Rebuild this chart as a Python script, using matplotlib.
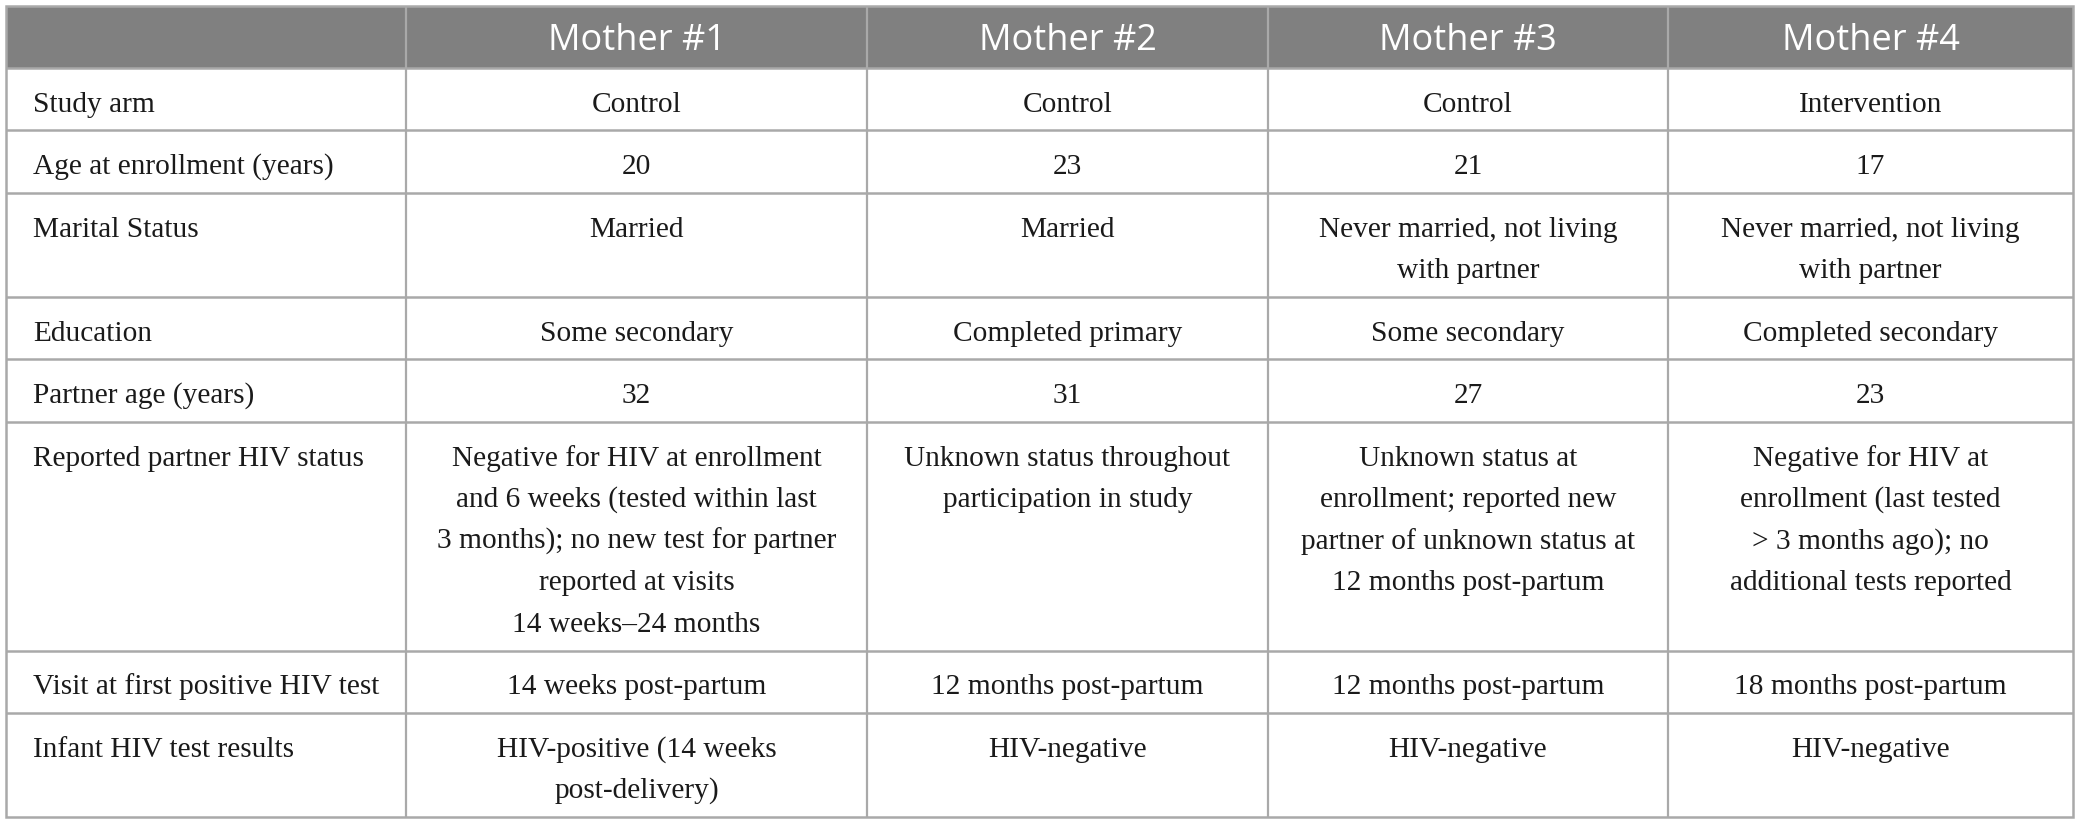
import matplotlib

matplotlib.use("Agg")

import matplotlib.pyplot as plt
from matplotlib.patches import Rectangle


column_titles = ["Mother #1", "Mother #2", "Mother #3", "Mother #4"]

row_labels = [
    "Study arm",
    "Age at enrollment (years)",
    "Marital Status",
    "Education",
    "Partner age (years)",
    "Reported partner HIV status",
    "Visit at first positive HIV test",
    "Infant HIV test results",
]

mother_1 = [
    "Control",
    "20",
    "Married",
    "Some secondary",
    "32",
    "Negative for HIV at enrollment\nand 6 weeks (tested within last\n"
    "3 months); no new test for partner\nreported at visits\n14 weeks\u201324 months",
    "14 weeks post-partum",
    "HIV-positive (14 weeks\npost-delivery)",
]

mother_2 = [
    "Control",
    "23",
    "Married",
    "Completed primary",
    "31",
    "Unknown status throughout\nparticipation in study",
    "12 months post-partum",
    "HIV-negative",
]

mother_3 = [
    "Control",
    "21",
    "Never married, not living\nwith partner",
    "Some secondary",
    "27",
    "Unknown status at\nenrollment; reported new\npartner of unknown status at\n12 months post-partum",
    "12 months post-partum",
    "HIV-negative",
]

mother_4 = [
    "Intervention",
    "17",
    "Never married, not living\nwith partner",
    "Completed secondary",
    "23",
    "Negative for HIV at\nenrollment (last tested\n> 3 months ago); no\nadditional tests reported",
    "18 months post-partum",
    "HIV-negative",
]

# layout in pixels
WIDTH, HEIGHT = 2078, 822
column_edges = [6, 406, 867, 1268, 1668, 2073]
TABLE_TOP = 6
HEADER_BOTTOM = 68
ROW_BASE = 62.5
LINE_STEP = 41.5
BASELINE_OFFSET = 43.5
LABEL_PAD = 27

HEADER_COLOR = "#808080"
GRID_COLOR = "#a9a9a9"
TEXT_COLOR = "#1a1a1a"

body_font = {"family": "Liberation Serif", "size": 21.2, "color": TEXT_COLOR}
header_font = {"family": "Open Sans", "size": 26, "color": "white"}

fig = plt.figure(figsize=(WIDTH / 100, HEIGHT / 100), dpi=100)
ax = fig.add_axes([0, 0, 1, 1])
ax.set_xlim(0, WIDTH)
ax.set_ylim(HEIGHT, 0)
ax.axis("off")

# header band
ax.add_patch(
    Rectangle(
        (column_edges[0], TABLE_TOP),
        column_edges[-1] - column_edges[0],
        HEADER_BOTTOM - TABLE_TOP,
        facecolor=HEADER_COLOR,
        edgecolor="none",
    )
)
for index, title in enumerate(column_titles, start=1):
    center = (column_edges[index] + column_edges[index + 1]) / 2
    ax.text(center, 50, title, ha="center", va="baseline", **header_font)

columns = [mother_1, mother_2, mother_3, mother_4]
row_tops = [HEADER_BOTTOM]

for row, label in enumerate(row_labels):
    cells = [label] + [column[row] for column in columns]
    num_lines = max(cell.count("\n") + 1 for cell in cells)
    top = row_tops[-1]

    for col, cell in enumerate(cells):
        for line_index, line in enumerate(cell.split("\n")):
            y = top + BASELINE_OFFSET + line_index * LINE_STEP
            if col == 0:
                ax.text(
                    column_edges[0] + LABEL_PAD, y, line,
                    ha="left", va="baseline", **body_font,
                )
            else:
                center = (column_edges[col] + column_edges[col + 1]) / 2
                ax.text(center, y, line, ha="center", va="baseline", **body_font)

    row_tops.append(top + ROW_BASE + LINE_STEP * (num_lines - 1))

table_bottom = row_tops[-1]

# grid lines
for y in row_tops[:-1]:
    ax.plot(
        [column_edges[0], column_edges[-1]], [y, y],
        color=GRID_COLOR, linewidth=1.8, solid_capstyle="butt",
    )
for x in column_edges[1:-1]:
    ax.plot(
        [x, x], [TABLE_TOP, table_bottom],
        color=GRID_COLOR, linewidth=1.6, solid_capstyle="butt",
    )
ax.add_patch(
    Rectangle(
        (column_edges[0], TABLE_TOP),
        column_edges[-1] - column_edges[0],
        table_bottom - TABLE_TOP,
        facecolor="none",
        edgecolor=GRID_COLOR,
        linewidth=1.8,
    )
)

fig.savefig("out.png", dpi=100, facecolor="white")
